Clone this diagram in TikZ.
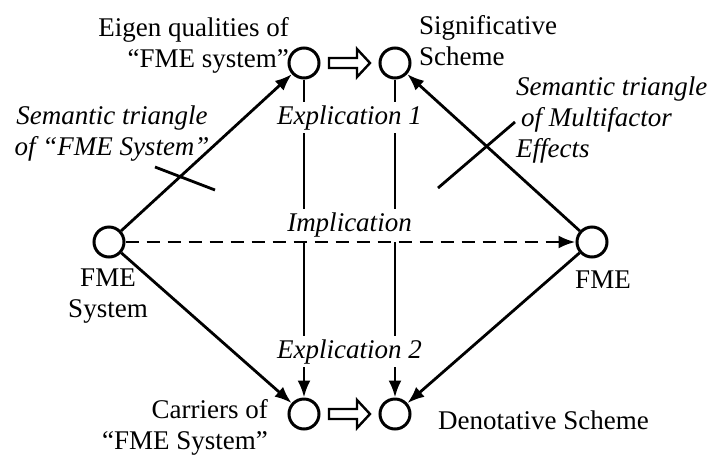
\documentclass[tikz,border=0pt]{standalone}
\usepackage{fontspec}
\setmainfont{Liberation Serif}
\usetikzlibrary{arrows.meta,calc}
\begin{document}
\begin{tikzpicture}[x=1pt,y=-1pt,
  every node/.style={font=\fontsize{27}{31}\selectfont},
  dot/.style={circle,draw,line width=3pt,minimum size=30pt,inner sep=0pt},
  conn/.style={line width=2.8pt,-{Latex[length=17pt,width=13pt]}},
  plainline/.style={line width=2.8pt},
  dashconn/.style={conn,dash pattern=on 13pt off 8pt},
  lbl/.style={inner sep=0pt},
  ilbl/.style={font=\fontsize{27}{31}\selectfont\itshape},
  hollowarrow/.pic={\draw[line width=2.4pt,line join=miter]
    (-20.5,-5) -- (7.5,-5) -- (7.5,-14) -- (20.5,0) -- (7.5,14) -- (7.5,5) -- (-20.5,5) -- cycle;}
]
\useasboundingbox (0,0) rectangle (710,456);
% circles
\node[dot] (A) at (304,63) {};
\node[dot] (B) at (395,63) {};
\node[dot] (C) at (109,242) {};
\node[dot] (D) at (592,242) {};
\node[dot] (E) at (304,414) {};
\node[dot] (F) at (395,414) {};
% labels (base anchor of a multi-line node = last line's baseline)
\node[lbl,anchor=base east,align=right] (tA) at (289,67) {Eigen qualities of\\“FME system”};
\node[lbl,anchor=base west,align=left] (tB) at (419,65) {Significative\\Scheme};
\node[lbl,anchor=base,align=center] (tC) at (108,317) {FME\\System};
\node[lbl,anchor=base] (tD) at (603,288) {FME};
\node[lbl,anchor=base east,align=right] (tE) at (268,449) {Carriers of\\“FME System”};
\node[lbl,anchor=base west] (tF) at (438,429) {Denotative Scheme};
\node[lbl,ilbl,anchor=base,align=center] (st1) at (112,155) {Semantic triangle\\of “FME System”};
\node[lbl,ilbl,anchor=base west,align=left] (st2) at (516,157) {Semantic triangle\\\hspace{5pt}of Multifactor\\Effects};
\node[ilbl,anchor=base] (ex1) at (349.5,124) {Explication 1};
\node[ilbl,anchor=base] (imp) at (349.5,231) {Implication};
\node[ilbl,anchor=base] (ex2) at (349.5,358) {Explication 2};
% diagonal connectors
\draw[conn] (C) -- (A);
\draw[conn] (D) -- (B);
\draw[conn] (C) -- (E);
\draw[conn] (D) -- (F);
\draw[dashconn] (C) -- (D);
% vertical explication lines
\draw[plainline] (A) -- (A |- ex1.north);
\draw[plainline] (A |- ex1.south) -- (A |- imp.north);
\draw[plainline] (A |- C) -- (A |- ex2.north);
\draw[conn] (A |- ex2.south) -- (E);
\draw[plainline] (B) -- (B |- ex1.north);
\draw[plainline] (B |- ex1.south) -- (B |- imp.north);
\draw[plainline] (B |- D) -- (B |- ex2.north);
\draw[conn] (B |- ex2.south) -- (F);
% pointer ticks
\coordinate (t1a) at (155,167);
\coordinate (t1b) at (215,190);
\coordinate (t2a) at (438,188);
\coordinate (t2b) at (515,122);
\draw[plainline] (t1a) -- (t1b);
\draw[plainline] (t2a) -- (t2b);
% hollow arrows
\pic at ($(A)!0.5!(B)$) {hollowarrow};
\pic at ($(E)!0.5!(F)$) {hollowarrow};
\end{tikzpicture}
\end{document}
